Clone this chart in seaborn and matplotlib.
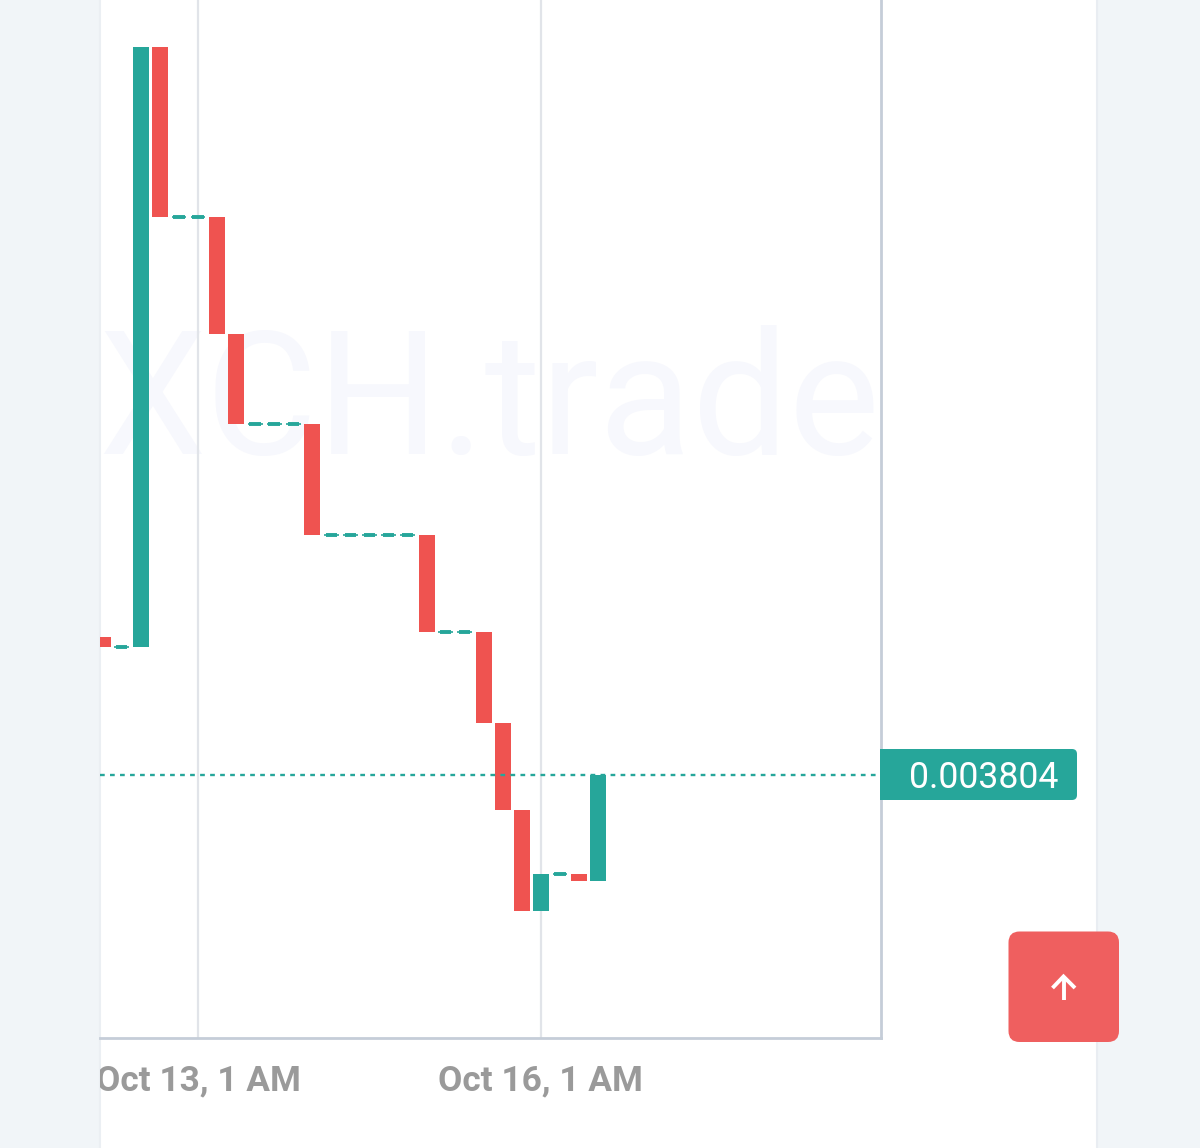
import numpy as np
import pandas as pd
import matplotlib.pyplot as plt
import seaborn as sns
from matplotlib.patches import FancyBboxPatch, Rectangle
from matplotlib.transforms import Bbox

# candles, hours since Oct 13 1 AM, one every 4 hours
hours = [-20, -16, -12, -8, -4, 0, 4, 8, 12, 16, 20, 24, 28, 32, 36, 40, 44,
         48, 52, 56, 60, 64, 68, 72, 76, 80, 84]
opens = [0.003942, 0.003932, 0.003932, 0.004532, 0.004362, 0.004362, 0.004362,
         0.004245, 0.004155, 0.004155, 0.004155, 0.004155, 0.004044, 0.004044,
         0.004044, 0.004044, 0.004044, 0.004044, 0.003947, 0.003947, 0.003947,
         0.003856, 0.003769, 0.003668, 0.003705, 0.003705, 0.003698]
closes = [0.003932, 0.003932, 0.004532, 0.004362, 0.004362, 0.004362, 0.004245,
          0.004155, 0.004155, 0.004155, 0.004155, 0.004044, 0.004044, 0.004044,
          0.004044, 0.004044, 0.004044, 0.003947, 0.003947, 0.003947, 0.003856,
          0.003769, 0.003668, 0.003705, 0.003705, 0.003698, 0.003804]
last_price = 0.003804
tick_hours = [0, 72]
tick_labels = ["Oct 13, 1 AM", "Oct 16, 1 AM"]

GREEN = "#26a69a"
RED = "#ef5350"

sns.set_theme(style="white")
plt.rcParams["font.family"] = ["Roboto", "DejaVu Sans"]

df = pd.DataFrame({"hour": hours, "open": opens, "close": closes})
df["low"] = df[["open", "close"]].min(axis=1)
df["body"] = (df["close"] - df["open"]).abs()
df["up"] = df["close"] > df["open"]
df["down"] = df["close"] < df["open"]
flat = df[df["open"] == df["close"]]

fig = plt.figure(figsize=(12, 11.48), dpi=100, facecolor="#f1f5f8")

# page behind the chart, in pixels
bg = fig.add_axes([0, 0, 1, 1], zorder=0)
bg.set_xlim(0, 1200)
bg.set_ylim(1148, 0)
bg.axis("off")
bg.add_patch(Rectangle((100, 0), 996, 1148, facecolor="white", edgecolor="none"))
bg.plot([1096.5, 1096.5], [0, 1148], color="#e9edf2", lw=1.5)
bg.plot([99.5, 99.5], [0, 1148], color="#ebeff3", lw=1.5)

ax = fig.add_axes([100 / 1200, 110 / 1148, 781 / 1200, 1038 / 1148], zorder=1)
ax.patch.set_alpha(0)

# green and red bodies, other slots have zero height
for mask, colour in [("up", GREEN), ("down", RED)]:
    sns.barplot(x=df["hour"].to_numpy(), y=(df["body"] * df[mask]).to_numpy(),
                bottom=df["low"].to_numpy(), orient="x", native_scale=True,
                width=0.84, color=colour, saturation=1, errorbar=None,
                linewidth=0, ax=ax, zorder=2)

# flat candles show up as short dashes
ax.hlines(flat["close"], flat["hour"] - 1.55, flat["hour"] + 1.55, color=GREEN, lw=1.2, zorder=2)
ax.hlines(flat["close"], flat["hour"] - 1.2, flat["hour"] + 1.2, color=GREEN, lw=2.8, zorder=2)

ax.axhline(last_price, color=GREEN, lw=1.7, dashes=(2.0, 2.24), zorder=3)

ax.set_xlim(-20.57, 143.4)
ax.set_ylim(0.003541, 0.004579)
ax.set_yticks([])
ax.set_xticks(tick_hours)
ax.set_xticklabels(tick_labels, fontsize=25.4, fontweight="bold", color="#9a9a9a")
ax.tick_params(axis="x", length=0, pad=19)
ax.set_xlabel("")
ax.set_ylabel("")
for tl in ax.get_xticklabels():
    tl.set_clip_on(True)
    tl.set_clip_box(Bbox([[100, 0], [1200, 1148]]))

ax.set_axisbelow(True)
ax.grid(axis="x", color="#e1e4e9", lw=1.6)
ax.grid(axis="y", visible=False)
ax.spines["top"].set_visible(False)
ax.spines["left"].set_visible(False)
for side in ["right", "bottom"]:
    ax.spines[side].set_color("#c5cdd8")
    ax.spines[side].set_linewidth(2.0)

ax.text(0.4985, 0.6085, "XCH.trade", transform=ax.transAxes, fontsize=123.5, color="#f7f8fd",
        ha="center", va="center", zorder=0, clip_on=True)

# price tag and the round button on top of everything
over = fig.add_axes([0, 0, 1, 1], zorder=3)
over.set_xlim(0, 1200)
over.set_ylim(1148, 0)
over.axis("off")
over.add_patch(FancyBboxPatch((884, 749), 193, 51, boxstyle="round,pad=0,rounding_size=5",
                              facecolor=GREEN, edgecolor="none"))
over.add_patch(Rectangle((880, 749), 12, 51, facecolor=GREEN, edgecolor="none"))
over.text(983.5, 777.5, f"{last_price:.6f}", color="white", fontsize=25.7, ha="center", va="center")

over.add_patch(FancyBboxPatch((1008.5, 931.5), 110.5, 110.5, boxstyle="round,pad=0,rounding_size=11",
                              facecolor="#ef5f5f", edgecolor="none"))
over.plot([1063.5, 1063.5], [977, 1000], color="white", lw=2.8, solid_capstyle="butt")
over.plot([1052.5, 1063.5, 1075], [988, 976.5, 988], color="white", lw=2.8,
          solid_joinstyle="miter", solid_capstyle="butt")

fig.savefig("out.png", dpi=100, facecolor=fig.get_facecolor())
